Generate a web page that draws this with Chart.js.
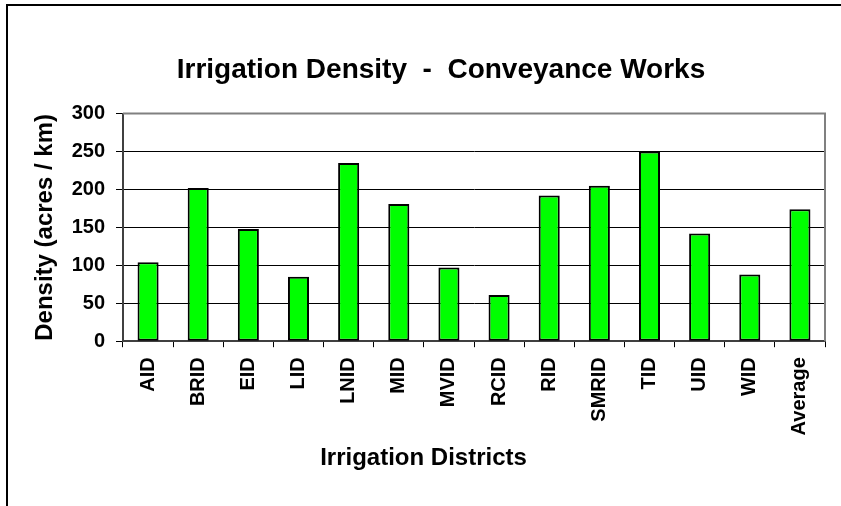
<!DOCTYPE html>
<html>
<head>
<meta charset="utf-8">
<script src="https://cdn.jsdelivr.net/npm/chart.js@4/dist/chart.umd.min.js"></script>
<style>
  html, body { margin: 0; padding: 0; background: #fff; }
  #wrap { width: 841px; height: 506px; position: relative; }
</style>
</head>
<body>
<div id="wrap"><canvas id="chart"></canvas></div>
<script>
// categories and values
const districts = ['AID', 'BRID', 'EID', 'LID', 'LNID', 'MID', 'MVID', 'RCID', 'RID', 'SMRID', 'TID', 'UID', 'WID', 'Average'];
const density = [104, 202, 148, 85, 235, 181, 97, 61, 192, 205, 250, 142, 88, 174];
const yTicks = [0, 50, 100, 150, 200, 250, 300];

const titleText = 'Irrigation Density  -  Conveyance Works';
const xTitleText = 'Irrigation Districts';
const yTitleText = 'Density (acres / km)';

const fontFamily = '"Liberation Sans", Arial, Helvetica, sans-serif';

// frame lines: outer chart border (top/left) and plot area top/right edge
const framePlugin = {
    id: 'frame',
    afterLayout(chart) {
        // the captions sit a little right of centre in the original
        chart.boxes.forEach(box => {
            if (!box.options || box.options.text === undefined) return;
            const shift = box.options.text === titleText ? 57 : 22;
            box.left += shift;
            box.width -= shift;
        });
    },
    beforeDraw(chart) {
        const ctx = chart.ctx;
        ctx.save();
        ctx.strokeStyle = '#000';
        ctx.lineWidth = 2;
        ctx.beginPath();
        ctx.moveTo(7, 506);
        ctx.lineTo(7, 5);
        ctx.lineTo(841, 5);
        ctx.stroke();
        ctx.restore();
    },
    afterDatasetsDraw(chart) {
        const a = chart.chartArea;
        const ctx = chart.ctx;
        ctx.save();
        ctx.strokeStyle = '#808080';
        ctx.lineWidth = 2;
        ctx.beginPath();
        ctx.moveTo(a.left, a.top);
        ctx.lineTo(a.right, a.top);
        ctx.lineTo(a.right, a.bottom);
        ctx.stroke();
        ctx.restore();
    }
};

const ctx = document.getElementById('chart').getContext('2d');
const chart = new Chart(ctx, {
    type: 'bar',
    data: {
        labels: districts,
        datasets: [{
            data: density,
            backgroundColor: '#00ff00',
            borderColor: '#000',
            borderWidth: 2,
            borderSkipped: false,
            categoryPercentage: 1.0,
            barPercentage: 0.42
        }]
    },
    options: {
        responsive: true,
        maintainAspectRatio: false,
        animation: false,
        layout: { padding: { left: 0, right: 16, top: 0, bottom: 0 } },
        plugins: {
            legend: { display: false },
            tooltip: { enabled: false },
            title: {
                display: true,
                text: titleText,
                color: '#000',
                font: { family: fontFamily, size: 28, weight: 'bold', lineHeight: 1.2 },
                padding: { top: 53, bottom: 27 }
            },
            // x axis caption as a bottom subtitle so it can sit near the canvas centre
            subtitle: {
                display: true,
                position: 'bottom',
                text: xTitleText,
                color: '#000',
                font: { family: fontFamily, size: 24, weight: 'bold', lineHeight: 1.2 },
                padding: { top: 0, bottom: 33 }
            }
        },
        scales: {
            x: {
                grid: {
                    offset: true,
                    drawOnChartArea: false,
                    drawTicks: true,
                    tickLength: 6,
                    color: '#000',
                    lineWidth: 1
                },
                border: { display: true, color: '#404040', width: 2 },
                ticks: {
                    color: '#000',
                    font: { family: fontFamily, size: 20, weight: 'bold' },
                    maxRotation: 90,
                    minRotation: 90,
                    padding: 10,
                    autoSkip: false
                },
                afterFit(scale) { scale.height = 103; }
            },
            y: {
                min: 0,
                max: 300,
                afterBuildTicks(scale) {
                    scale.ticks = yTicks.map(v => ({ value: v }));
                },
                grid: {
                    color: '#000',
                    lineWidth: 1,
                    tickLength: 7
                },
                border: { display: true, color: '#404040', width: 2 },
                ticks: {
                    color: '#000',
                    font: { family: fontFamily, size: 20, weight: 'bold' },
                    padding: 11
                },
                title: {
                    display: true,
                    text: yTitleText,
                    color: '#000',
                    font: { family: fontFamily, size: 24, weight: 'bold', lineHeight: 1.2 },
                    padding: { top: 31, bottom: 0 }
                },
                afterFit(scale) { scale.width = 123; }
            }
        }
    },
    plugins: [framePlugin]
});
</script>
</body>
</html>
